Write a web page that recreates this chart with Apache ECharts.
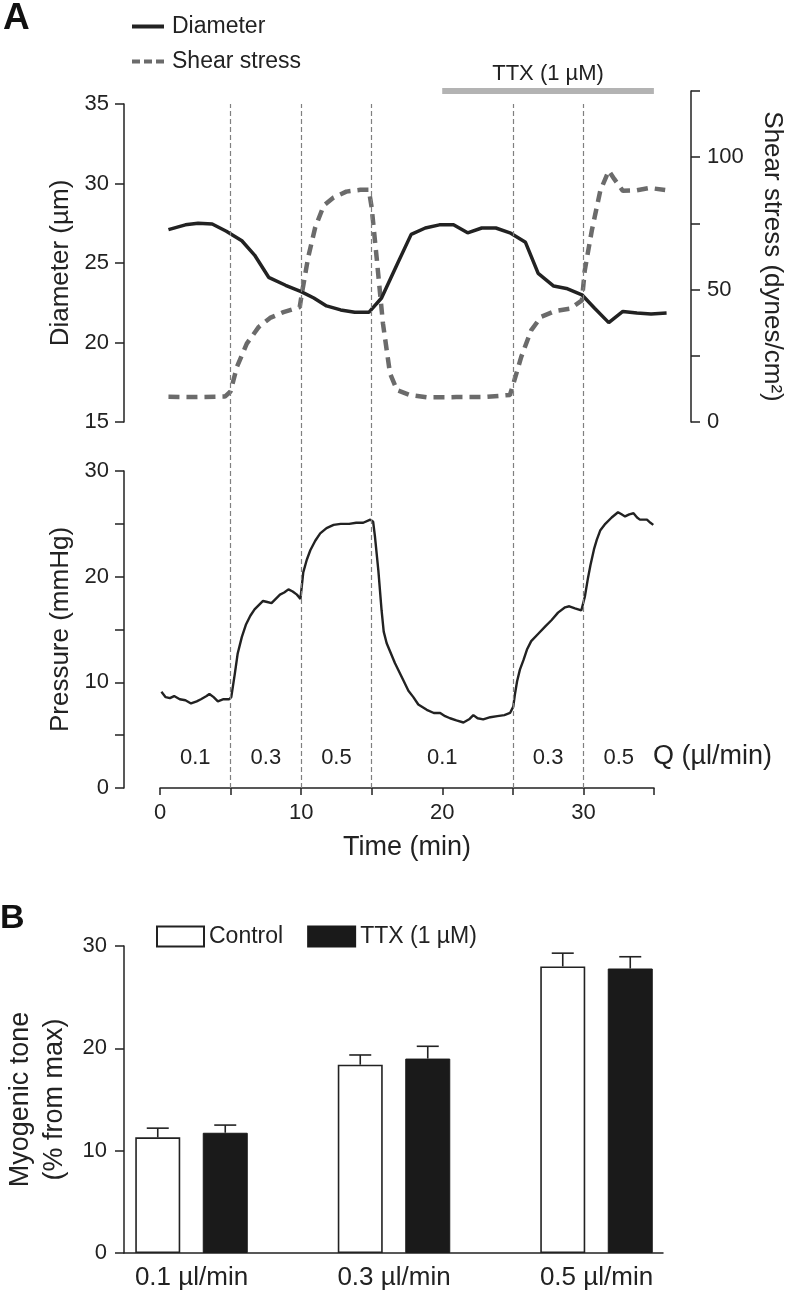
<!DOCTYPE html>
<html>
<head>
<meta charset="utf-8">
<script src="https://cdn.jsdelivr.net/npm/echarts@6/dist/echarts.min.js"></script>
<style>
  html, body { margin: 0; padding: 0; background: #fff; }
  #chart { width: 788px; height: 1296px; }
</style>
</head>
<body>
<div id="chart"></div>
<script>
// ---- panel A: diameter / shear stress (time in min) ----
var diameterData = [
    [0.6, 27.1], [1.8, 27.4], [2.7, 27.5], [3.7, 27.45], [4.7, 27.0], [5.8, 26.4],
    [6.7, 25.5], [7.7, 24.1], [8.9, 23.6], [10.0, 23.2], [10.9, 22.8], [11.8, 22.3],
    [12.8, 22.05], [13.8, 21.9], [14.8, 21.9], [15.7, 22.8], [16.8, 24.9], [17.8, 26.8],
    [18.8, 27.2], [19.8, 27.4], [20.8, 27.4], [21.8, 26.9], [22.8, 27.2], [23.8, 27.2],
    [24.8, 26.9], [25.9, 26.3], [26.8, 24.35], [27.9, 23.55], [28.8, 23.4], [29.9, 23.0],
    [30.8, 22.15], [31.8, 21.25], [32.8, 21.95], [33.8, 21.85], [34.8, 21.8], [35.9, 21.85]
];
var shearData = [
    [0.6, 9.5], [2.5, 9.4], [4.6, 9.6], [5.0, 11.5], [5.45, 20.8], [6.15, 29.6],
    [7.0, 35.9], [7.8, 39.3], [8.75, 41.5], [9.9, 43.4], [10.05, 48.4], [10.5, 62.2],
    [11.0, 73.5], [11.6, 81.7], [12.3, 84.8], [13.2, 87], [14.2, 87.7], [14.8, 87.7],
    [15.0, 81], [15.35, 62.2], [15.8, 37.2], [16.3, 18.3], [16.8, 12], [17.7, 10.2],
    [18.9, 9.3], [20.3, 9.3], [21.0, 9.4], [22.9, 9.4], [24.8, 10.2], [25.05, 14.6],
    [25.6, 24.6], [26.3, 34.6], [27.0, 39.7], [28.0, 41.9], [29.05, 42.8], [29.9, 45.9],
    [30.1, 57.2], [30.6, 72.3], [31.2, 87.3], [31.8, 94.9], [32.2, 91.7], [32.8, 87.3],
    [33.8, 87.5], [34.7, 88.4], [35.8, 87.6]
];
var pressureData = [
    [0.1, 9.1], [0.4, 8.6], [0.7, 8.5], [1.0, 8.7], [1.4, 8.4], [1.8, 8.3], [2.2, 8.0],
    [2.6, 8.2], [2.9, 8.4], [3.3, 8.7], [3.5, 8.9], [3.8, 8.6], [4.1, 8.2], [4.5, 8.4],
    [4.9, 8.4], [5.05, 8.6], [5.3, 10.8], [5.5, 12.7], [5.8, 14.3], [6.1, 15.5], [6.4, 16.3],
    [6.7, 16.9], [7.0, 17.3], [7.3, 17.7], [7.6, 17.6], [7.9, 17.5], [8.2, 17.9], [8.5, 18.3],
    [8.8, 18.5], [9.1, 18.8], [9.4, 18.6], [9.7, 18.3], [9.95, 17.9], [10.15, 20.4],
    [10.4, 21.6], [10.65, 22.5], [11.0, 23.4], [11.35, 24.1], [11.8, 24.6], [12.3, 24.9],
    [12.8, 25.0], [13.4, 25.0], [13.9, 25.1], [14.4, 25.1], [14.9, 25.4], [15.1, 25.2],
    [15.23, 23.8], [15.47, 20.6], [15.7, 16.8], [15.85, 14.8], [16.06, 13.7], [16.65, 11.8],
    [17.24, 10.2], [17.6, 9.2], [17.95, 8.6], [18.3, 7.9], [18.9, 7.4], [19.4, 7.1],
    [19.85, 7.1], [20.2, 6.8], [20.55, 6.6], [21.0, 6.4], [21.5, 6.2], [21.9, 6.5],
    [22.2, 6.9], [22.5, 6.6], [22.9, 6.5], [23.4, 6.7], [23.9, 6.8], [24.4, 6.9], [24.8, 7.1],
    [25.03, 7.7], [25.15, 8.9], [25.3, 10.1], [25.5, 11.2], [25.75, 12.1], [26.0, 13.1],
    [26.3, 13.9], [26.8, 14.6], [27.3, 15.3], [27.75, 15.9], [28.2, 16.6], [28.7, 17.1],
    [29.0, 17.2], [29.4, 17.0], [29.85, 16.8], [30.1, 18.1], [30.3, 19.7], [30.5, 21.1],
    [30.75, 22.6], [30.95, 23.5], [31.2, 24.4], [31.55, 25.0], [32.0, 25.6], [32.45, 26.1],
    [32.7, 25.9], [32.95, 25.7], [33.25, 25.9], [33.55, 26.0], [33.8, 25.6], [34.0, 25.4],
    [34.5, 25.4], [34.75, 25.1], [34.95, 24.9]
];
// flow steps: edges in min, rate per step
var flowEdges = [0, 5, 10, 15, 25, 30, 35];
var flowRates = ['0.1', '0.3', '0.5', '0.1', '0.3', '0.5'];
var ttxPeriod = [20, 35];

// ---- panel B: myogenic tone ----
var toneCategories = ['0.1 \u00b5l/min', '0.3 \u00b5l/min', '0.5 \u00b5l/min'];
var controlTone = [11.3, 18.4, 28.0];
var controlErr = [0.9, 0.95, 1.3];
var ttxTone = [11.75, 19.0, 27.8];
var ttxErr = [0.75, 1.2, 1.15];

var FONT = "'Liberation Sans', Arial, Helvetica, sans-serif";
var INK = '#222';
var SHEAR_MAX = 125;
var BAR_W = 45;

var chart = echarts.init(document.getElementById('chart'));

// vertical dashed lines at the flow changes (inner edges only)
var stepLines = flowEdges.slice(1, -1).map(function (t) { return { xAxis: t }; });

var flowAreas = flowRates.map(function (r, i) {
    return [
        { xAxis: flowEdges[i], yAxis: 0, name: r },
        { xAxis: flowEdges[i + 1], yAxis: 5.7 }
    ];
});

function errRender(offset) {
    return function (params, api) {
        var top = api.coord([api.value(0), api.value(1)]);
        var end = api.coord([api.value(0), api.value(1) + api.value(2)]);
        var x = top[0] + offset;
        var st = { stroke: INK, lineWidth: 1.6 };
        return {
            type: 'group',
            children: [
                { type: 'line', shape: { x1: x, y1: top[1], x2: x, y2: end[1] }, style: st },
                { type: 'line', shape: { x1: x - 11, y1: end[1], x2: x + 11, y2: end[1] }, style: st }
            ]
        };
    };
}

function hiddenX(idx, max) {
    return { type: 'value', gridIndex: idx, min: 0, max: max, show: false };
}

var axisLineStyle = { onZero: false, lineStyle: { color: INK, width: 1.5 } };
var tickStyle = { length: 9, lineStyle: { color: INK, width: 1.5 } };
var labelStyle = { color: INK, fontSize: 22, fontFamily: FONT };
var nameStyle = { color: INK, fontSize: 26, fontFamily: FONT };

var option = {
    animation: false,
    backgroundColor: '#fff',
    textStyle: { fontFamily: FONT, color: INK },
    grid: [
        { left: 160, top: 104, width: 508, height: 318, outerBoundsMode: 'none' },   // diameter
        { left: 160, top: 91, width: 508, height: 331, outerBoundsMode: 'none' },    // shear
        { left: 160, top: 104, width: 494, height: 684, outerBoundsMode: 'none' },   // step lines
        { left: 160, top: 471, width: 494, height: 317, outerBoundsMode: 'none' },   // pressure
        { left: 90.25, top: 946, width: 607.5, height: 307, outerBoundsMode: 'none' }, // bars
        { left: 124, top: 946, width: 539, height: 307, outerBoundsMode: 'none' }     // bar axes
    ],
    legend: [
        {
            data: [
                { name: 'Diameter', icon: 'rect' },
                { name: 'Shear stress', icon: 'path://M0,0h8v4h-8z M12,0h8v4h-8z M24,0h8v4h-8z' }
            ],
            orient: 'vertical',
            left: 132,
            top: 15,
            padding: 0,
            itemWidth: 32,
            itemHeight: 4,
            itemGap: 12,
            textStyle: { fontSize: 23, color: INK, fontFamily: FONT, padding: [0, 0, 0, 3] }
        },
        {
            data: [{ name: 'Control', icon: 'rect' }, { name: 'TTX (1 \u00b5M)', icon: 'rect' }],
            left: 156,
            top: 925,
            padding: 0,
            itemWidth: 47,
            itemHeight: 20,
            itemGap: 24,
            textStyle: { fontSize: 23, color: INK, fontFamily: FONT }
        }
    ],
    graphic: [
        { type: 'text', left: 3, top: 0, style: { text: 'A', fontSize: 37, fontWeight: 'bold', fontFamily: FONT, fill: '#111' } },
        { type: 'text', left: 0, top: 902, style: { text: 'B', fontSize: 34, fontWeight: 'bold', fontFamily: FONT, fill: '#111' } },
        { type: 'text', left: 653, top: 743, style: { text: 'Q (\u00b5l/min)', fontSize: 27, fontFamily: FONT, fill: INK } }
    ],
    xAxis: [
        hiddenX(0, 36),
        hiddenX(1, 36),
        hiddenX(2, 35),
        {
            type: 'value', gridIndex: 3, min: 0, max: 35, interval: 5,
            name: 'Time (min)', nameLocation: 'middle', nameGap: 46,
            nameTextStyle: { color: INK, fontSize: 27, fontFamily: FONT },
            axisLine: axisLineStyle,
            axisTick: { length: 7, lineStyle: { color: INK, width: 1.5 } },
            axisLabel: Object.assign({}, labelStyle, {
                margin: 14,
                formatter: function (v) { return v % 10 === 0 ? v : ''; }
            }),
            splitLine: { show: false }
        },
        {
            type: 'category', gridIndex: 4, data: toneCategories,
            axisLine: { show: false }, axisTick: { show: false },
            axisLabel: Object.assign({}, labelStyle, { fontSize: 26, margin: 12 })
        },
        {
            type: 'value', gridIndex: 5, min: 0, max: 1,
            axisLine: axisLineStyle, axisTick: { show: false },
            axisLabel: { show: false }, splitLine: { show: false }
        }
    ],
    yAxis: [
        {
            type: 'value', gridIndex: 0, min: 15, max: 35, interval: 5, offset: 36,
            name: 'Diameter (\u00b5m)', nameLocation: 'middle', nameGap: 40,
            nameTextStyle: nameStyle,
            axisLine: axisLineStyle, axisTick: tickStyle,
            axisLabel: Object.assign({}, labelStyle, { margin: 15 }),
            splitLine: { show: false }
        },
        {
            type: 'value', gridIndex: 1, position: 'right', min: 0, max: SHEAR_MAX, interval: 25, offset: 23,
            name: 'Shear stress (dynes/cm\u00b2)', nameLocation: 'middle', nameGap: 68, nameRotate: -90,
            nameTextStyle: nameStyle,
            axisLine: axisLineStyle, axisTick: tickStyle,
            axisLabel: Object.assign({}, labelStyle, {
                margin: 16,
                formatter: function (v) { return v % 50 === 0 ? v : ''; }
            }),
            splitLine: { show: false }
        },
        { type: 'value', gridIndex: 2, min: 0, max: 1, show: false },
        {
            type: 'value', gridIndex: 3, min: 0, max: 30, interval: 5, offset: 36,
            name: 'Pressure (mmHg)', nameLocation: 'middle', nameGap: 40,
            nameTextStyle: nameStyle,
            axisLine: axisLineStyle, axisTick: tickStyle,
            axisLabel: Object.assign({}, labelStyle, {
                margin: 15,
                formatter: function (v) { return v % 10 === 0 ? v : ''; }
            }),
            splitLine: { show: false }
        },
        { type: 'value', gridIndex: 4, min: 0, max: 30, show: false },
        {
            type: 'value', gridIndex: 5, min: 0, max: 30, interval: 10,
            name: 'Myogenic tone\n(% from max)', nameLocation: 'middle', nameGap: 52,
            nameTextStyle: { color: INK, fontSize: 27, fontFamily: FONT, lineHeight: 34 },
            axisLine: axisLineStyle, axisTick: tickStyle,
            axisLabel: Object.assign({}, labelStyle, { margin: 17 }),
            splitLine: { show: false }
        }
    ],
    series: [
        {
            name: 'Diameter', type: 'line', xAxisIndex: 0, yAxisIndex: 0,
            data: diameterData, showSymbol: false, symbol: 'none', clip: false,
            lineStyle: { color: INK, width: 3.5 }, itemStyle: { color: INK },
            z: 4
        },
        {
            name: 'Shear stress', type: 'line', xAxisIndex: 1, yAxisIndex: 1,
            data: shearData, showSymbol: false, symbol: 'none', clip: false,
            lineStyle: { color: '#6b6b6b', width: 4.5, type: [11, 7] }, itemStyle: { color: '#6b6b6b' },
            z: 3,
            markLine: {
                silent: true, symbol: 'none',
                lineStyle: { color: '#b3b3b3', width: 6, type: 'solid' },
                label: {
                    show: true, position: 'middle', distance: 6,
                    formatter: 'TTX (1 \u00b5M)', color: INK, fontSize: 22, fontFamily: FONT
                },
                data: [[{ coord: [ttxPeriod[0], SHEAR_MAX] }, { coord: [ttxPeriod[1], SHEAR_MAX] }]]
            }
        },
        {
            name: 'steps', type: 'line', xAxisIndex: 2, yAxisIndex: 2,
            data: [[0, 0]], symbol: 'none', lineStyle: { opacity: 0 },
            markLine: {
                silent: true, symbol: 'none',
                label: { show: false },
                lineStyle: { color: '#808080', width: 1.2, type: [5, 3] },
                data: stepLines
            }
        },
        {
            name: 'Pressure', type: 'line', xAxisIndex: 3, yAxisIndex: 3,
            data: pressureData, showSymbol: false, symbol: 'none',
            lineStyle: { color: INK, width: 2.4 },
            markArea: {
                silent: true,
                itemStyle: { color: 'rgba(0,0,0,0)' },
                label: { show: true, position: 'inside', color: INK, fontSize: 22, fontFamily: FONT },
                data: flowAreas
            }
        },
        {
            name: 'Control', type: 'bar', xAxisIndex: 4, yAxisIndex: 4,
            data: controlTone, barWidth: BAR_W, barGap: '50%',
            itemStyle: { color: '#fff', borderColor: INK, borderWidth: 1.6 }
        },
        {
            name: 'TTX (1 \u00b5M)', type: 'bar', xAxisIndex: 4, yAxisIndex: 4,
            data: ttxTone, barWidth: BAR_W,
            itemStyle: { color: '#1a1a1a', borderColor: '#1a1a1a', borderWidth: 1 }
        },
        {
            name: 'ctrlErr', type: 'custom', xAxisIndex: 4, yAxisIndex: 4,
            renderItem: errRender(-BAR_W * 0.75),
            encode: { x: 0, y: 1 },
            data: controlTone.map(function (v, i) { return [i, v, controlErr[i]]; }),
            z: 5
        },
        {
            name: 'ttxErr', type: 'custom', xAxisIndex: 4, yAxisIndex: 4,
            renderItem: errRender(BAR_W * 0.75),
            encode: { x: 0, y: 1 },
            data: ttxTone.map(function (v, i) { return [i, v, ttxErr[i]]; }),
            z: 5
        }
    ]
};

chart.setOption(option);
</script>
</body>
</html>
